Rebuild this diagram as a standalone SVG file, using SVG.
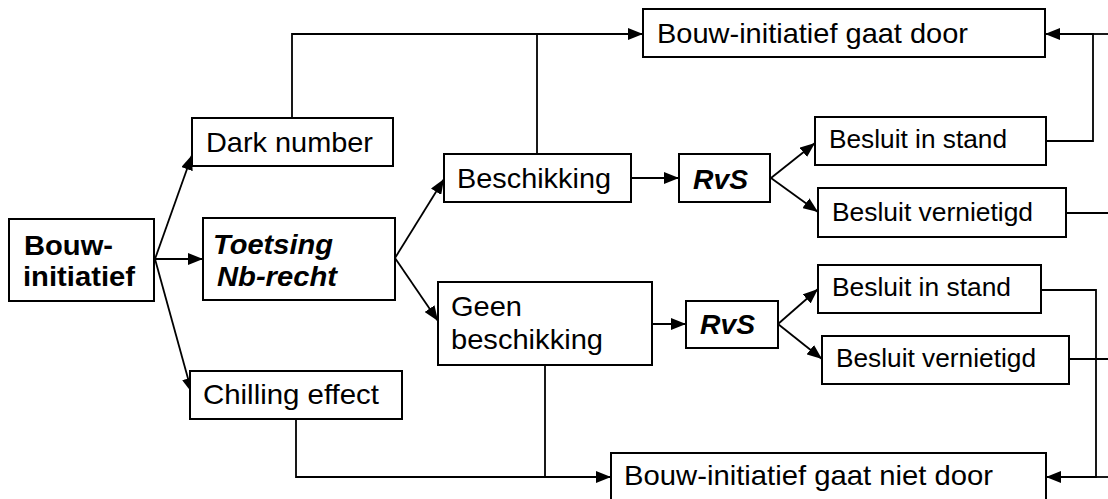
<svg xmlns="http://www.w3.org/2000/svg" width="1108" height="499" viewBox="0 0 1108 499">
<style>
.box{fill:#fff;stroke:#000;stroke-width:2}
.t{font-family:"Liberation Sans",Arial,sans-serif;font-size:28.5px;fill:#000}
.s{font-family:"Liberation Sans",Arial,sans-serif;font-size:26px;fill:#000}
.b{font-weight:bold}
.bi{font-weight:bold;font-style:italic}
.c{fill:none;stroke:#000;stroke-width:1.8}
</style>
<defs>
<marker id="ah" markerUnits="userSpaceOnUse" markerWidth="16" markerHeight="12" viewBox="0 0 16 12" refX="15" refY="6" orient="auto">
<path d="M0,0 L15,6 L0,12 z" fill="#000"/>
</marker>
</defs>
<g id="connectors">
<line class="c" x1="155" y1="259" x2="192" y2="155" marker-end="url(#ah)"/>
<line class="c" x1="155" y1="259" x2="203" y2="259" marker-end="url(#ah)"/>
<line class="c" x1="155" y1="259" x2="192" y2="393" marker-end="url(#ah)"/>
<polyline class="c" points="292,118 292,34 643,34" marker-end="url(#ah)"/>
<line class="c" x1="537" y1="154" x2="537" y2="34"/>
<line class="c" x1="395" y1="258" x2="444" y2="179" marker-end="url(#ah)"/>
<line class="c" x1="395" y1="258" x2="438" y2="321" marker-end="url(#ah)"/>
<line class="c" x1="631" y1="178" x2="679" y2="178" marker-end="url(#ah)"/>
<line class="c" x1="771" y1="178" x2="815" y2="143" marker-end="url(#ah)"/>
<line class="c" x1="771" y1="178" x2="818" y2="212" marker-end="url(#ah)"/>
<polyline class="c" points="1046,141 1093,141 1093,34 1045,34" marker-end="url(#ah)"/>
<line class="c" x1="1093" y1="34" x2="1108" y2="34"/>
<line class="c" x1="1066" y1="213" x2="1108" y2="213"/>
<line class="c" x1="652" y1="324" x2="686" y2="324" marker-end="url(#ah)"/>
<line class="c" x1="778" y1="324" x2="818" y2="289" marker-end="url(#ah)"/>
<line class="c" x1="778" y1="324" x2="822" y2="359" marker-end="url(#ah)"/>
<polyline class="c" points="1041,290 1096,290 1096,477 1046,477" marker-end="url(#ah)"/>
<line class="c" x1="1096" y1="477" x2="1108" y2="477"/>
<line class="c" x1="1069" y1="359" x2="1108" y2="359"/>
<polyline class="c" points="296,419 296,477 611,477" marker-end="url(#ah)"/>
<line class="c" x1="545" y1="365" x2="545" y2="477"/>
</g>
<g id="bouw-initiatief">
<rect class="box" x="9" y="219" width="145" height="82"/>
<text class="t b" x="24" y="255" textLength="89" lengthAdjust="spacingAndGlyphs">Bouw-</text>
<text class="t b" x="23" y="286" textLength="112" lengthAdjust="spacingAndGlyphs">initiatief</text>
</g>
<g id="dark-number">
<rect class="box" x="192" y="118" width="201" height="48"/>
<text class="t" x="206" y="152" textLength="167" lengthAdjust="spacingAndGlyphs">Dark number</text>
</g>
<g id="toetsing">
<rect class="box" x="203" y="218" width="192" height="82"/>
<text class="t bi" x="213" y="254" textLength="120" lengthAdjust="spacingAndGlyphs">Toetsing</text>
<text class="t bi" x="217" y="286" textLength="120" lengthAdjust="spacingAndGlyphs">Nb-recht</text>
</g>
<g id="chilling-effect">
<rect class="box" x="190" y="371" width="212" height="48"/>
<text class="t" x="203" y="404" textLength="176" lengthAdjust="spacingAndGlyphs">Chilling effect</text>
</g>
<g id="beschikking">
<rect class="box" x="444" y="154" width="187" height="48"/>
<text class="t" x="457" y="188" textLength="154" lengthAdjust="spacingAndGlyphs">Beschikking</text>
</g>
<g id="rvs-1">
<rect class="box" x="679" y="154" width="91" height="48"/>
<text class="t bi" x="693" y="189" textLength="55" lengthAdjust="spacingAndGlyphs">RvS</text>
</g>
<g id="gaat-door">
<rect class="box" x="643" y="9" width="402" height="48"/>
<text class="t" x="657" y="43" textLength="311" lengthAdjust="spacingAndGlyphs">Bouw-initiatief gaat door</text>
</g>
<g id="besluit-in-stand-1">
<rect class="box" x="815" y="117" width="231" height="48"/>
<text class="s" x="829" y="148" textLength="178" lengthAdjust="spacingAndGlyphs">Besluit in stand</text>
</g>
<g id="besluit-vernietigd-1">
<rect class="box" x="818" y="188" width="248" height="49"/>
<text class="s" x="832" y="221" textLength="201" lengthAdjust="spacingAndGlyphs">Besluit vernietigd</text>
</g>
<g id="geen-beschikking">
<rect class="box" x="438" y="282" width="214" height="83"/>
<text class="t" x="451" y="316" textLength="71" lengthAdjust="spacingAndGlyphs">Geen</text>
<text class="t" x="451" y="349" textLength="152" lengthAdjust="spacingAndGlyphs">beschikking</text>
</g>
<g id="rvs-2">
<rect class="box" x="686" y="301" width="92" height="47"/>
<text class="t bi" x="700" y="334" textLength="55" lengthAdjust="spacingAndGlyphs">RvS</text>
</g>
<g id="besluit-in-stand-2">
<rect class="box" x="818" y="265" width="223" height="48"/>
<text class="s" x="832" y="296" textLength="179" lengthAdjust="spacingAndGlyphs">Besluit in stand</text>
</g>
<g id="besluit-vernietigd-2">
<rect class="box" x="822" y="336" width="247" height="48"/>
<text class="s" x="836" y="367" textLength="200" lengthAdjust="spacingAndGlyphs">Besluit vernietigd</text>
</g>
<g id="gaat-niet-door">
<rect class="box" x="611" y="453" width="435" height="60"/>
<text class="t" x="624" y="485" textLength="369" lengthAdjust="spacingAndGlyphs">Bouw-initiatief gaat niet door</text>
</g>
</svg>
